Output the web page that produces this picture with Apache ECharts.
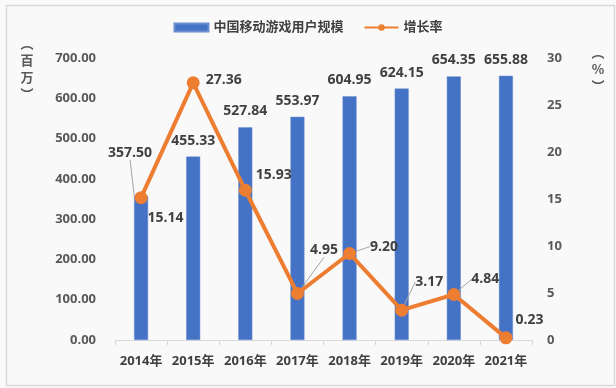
<!DOCTYPE html>
<html><head><meta charset="utf-8">
<script src="https://cdn.jsdelivr.net/npm/echarts@6/dist/echarts.min.js"></script>
<style>html,body{margin:0;padding:0;background:#f7f7f7;}#c{width:616px;height:388px;}</style>
</head><body><div id="c"></div>
<script>
const categories = ['2014年','2015年','2016年','2017年','2018年','2019年','2020年','2021年'];
const users = [357.50, 455.33, 527.84, 553.97, 604.95, 624.15, 654.35, 655.88];
const growth = [15.14, 27.36, 15.93, 4.95, 9.20, 3.17, 4.84, 0.23];
const seriesNames = ['中国移动游戏用户规模', '增长率'];

// label layout nudges (presentation only)
const barNudge = [[-11,-27],[0,0],[0,0],[0,0],[0,0],[0,0],[0,0],[0,0]];
const barGuide = [true,false,false,false,false,false,false,false];
const lineNudge = [[-5,20],[1,-3],[-1,-15],[1,-43],[9,-7],[2,-28],[6,-15],[-2,-18]];
const lineGuide = [false,false,false,true,true,true,true,false];

const FONT = "'Open Sans','Noto Sans CJK SC',sans-serif";
const TXT = '#404040';
const AX = '#595959';
const GUIDE = {color: '#a6a6a6', width: 1};

function vName(x, y, chars) {
  return chars.map((ch, i) => ({type: 'text', x: x, y: y + i * 17,
    style: {text: ch, fill: AX, font: "bold 13px 'Noto Sans CJK SC'", align: 'center', verticalAlign: 'middle'}}));
}

const chart = echarts.init(document.getElementById('c'), null, {renderer:'canvas'});
chart.setOption({
  backgroundColor: '#f9f9f9',
  animation: false,
  textStyle: {fontFamily: FONT},
  legend: {
    top: 16, left: 'center', itemGap: 20, itemWidth: 34, itemHeight: 8,
    textStyle: {fontSize: 13, fontWeight: 'bold', color: '#404040', fontFamily: FONT},
    data: [{name: seriesNames[0], icon: 'rect'}, {name: seriesNames[1]}]
  },
  grid: {left: 115, right: 84, top: 58, bottom: 48, containLabel: false},
  xAxis: {
    type: 'category', data: categories,
    axisLine: {lineStyle: {color: '#d9d9d9', width: 1}},
    axisTick: {show: true, length: 5, lineStyle: {color: '#d9d9d9'}},
    axisLabel: {color: '#404040', fontSize: 13, fontWeight: 'bold', margin: 15, interval: 0, fontFamily: FONT}
  },
  yAxis: [
    {type: 'value', min: 0, max: 700, interval: 100,
     splitLine: {show: false}, axisLine: {show: false}, axisTick: {show: false},
     axisLabel: {color: AX, fontSize: 13, fontWeight: 'bold', margin: 19,
       formatter: v => v.toFixed(2)}},
    {type: 'value', min: 0, max: 30, interval: 5,
     splitLine: {show: false}, axisLine: {show: false}, axisTick: {show: false},
     axisLabel: {color: AX, fontSize: 13, fontWeight: 'bold', margin: 15, align: 'left'}}
  ],
  graphic: [
    {type: 'rect', left: 4, top: 3, shape: {width: 608, height: 380},
     style: {fill: 'none', stroke: '#d9d9d9', lineWidth: 1.5}, silent: true}
  ].concat(vName(27, 43, ['︵', '百', '万', '︶'])).concat(vName(598, 52, ['︵', '%', '︶'])),
  series: [
    {name: seriesNames[0], type: 'bar', barWidth: 14, yAxisIndex: 0,
     data: users.map((v, i) => ({value: v, labelLine: {show: barGuide[i], lineStyle: GUIDE}})),
     itemStyle: {color: '#4472C4', borderColor: '#6b8fd1', borderWidth: 0.5},
     label: {show: true, position: 'top', distance: 9, color: TXT, fontSize: 14, fontWeight: 'bold',
       fontFamily: FONT, formatter: p => p.value.toFixed(2)},
     labelLayout: p => ({dx: barNudge[p.dataIndex][0], dy: barNudge[p.dataIndex][1]}),
     z: 2},
    {name: seriesNames[1], type: 'line', yAxisIndex: 1,
     data: growth.map((v, i) => ({value: v, labelLine: {show: lineGuide[i], lineStyle: GUIDE}})),
     symbol: 'circle', symbolSize: 13,
     lineStyle: {color: '#ED7D31', width: 4}, itemStyle: {color: '#ED7D31'},
     label: {show: true, position: 'right', distance: 5, color: TXT, fontSize: 14, fontWeight: 'bold',
       fontFamily: FONT, formatter: p => p.value.toFixed(2)},
     labelLayout: p => ({dx: lineNudge[p.dataIndex][0], dy: lineNudge[p.dataIndex][1]}),
     z: 3}
  ]
});
</script></body></html>
